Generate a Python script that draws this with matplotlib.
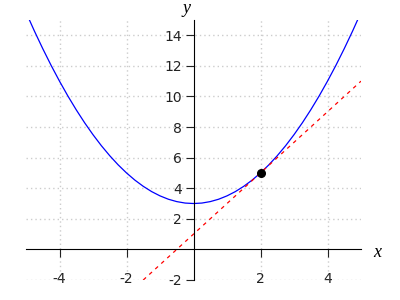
import matplotlib
matplotlib.use("Agg")
from matplotlib import pyplot as plt

plt.rcParams["axes.unicode_minus"] = False

# parabola samples
curva_x = [-5, -4.75, -4.5, -4.25, -4, -3.75, -3.5, -3.25, -3, -2.75, -2.5,
           -2.25, -2, -1.75, -1.5, -1.25, -1, -0.75, -0.5, -0.25, 0,
           0.25, 0.5, 0.75, 1, 1.25, 1.5, 1.75, 2, 2.25, 2.5,
           2.75, 3, 3.25, 3.5, 3.75, 4, 4.25, 4.5, 4.75, 5]
curva_y = [15.5, 14.28, 13.125, 12.03, 11, 10.03, 9.125, 8.28, 7.5, 6.78, 6.125,
           5.53, 5, 4.53, 4.125, 3.78, 3.5, 3.28, 3.125, 3.03, 3,
           3.03, 3.125, 3.28, 3.5, 3.78, 4.125, 4.53, 5, 5.53, 6.125,
           6.78, 7.5, 8.28, 9.125, 10.03, 11, 12.03, 13.125, 14.28, 15.5]

# tangent line and point
tangente_x = [-1.5, 5]
tangente_y = [-2, 11]
ponto_x = [2]
ponto_y = [5]

x_ticks = [-4, -2, 2, 4]
y_ticks = [-2, 2, 4, 6, 8, 10, 12, 14]

fig = plt.figure(figsize=(4, 3), dpi=100)
ax = fig.add_axes([0.065, 0.0667, 0.8375, 0.8667])

ax.plot(curva_x, curva_y, color="blue", linewidth=0.9)
ax.plot(tangente_x, tangente_y, color="red", linewidth=0.9, linestyle=(0, (3, 3.5)))
ax.plot(ponto_x, ponto_y, "o", color="black", markersize=5.5, zorder=5)

ax.set_xlim(-5, 5)
ax.set_ylim(-2, 15)

ax.spines["left"].set_position("zero")
ax.spines["bottom"].set_position("zero")
ax.spines["top"].set_visible(False)
ax.spines["right"].set_visible(False)

ax.set_xticks(x_ticks)
ax.set_yticks(y_ticks)
ax.tick_params(axis="x", length=5.5, pad=10.5, labelsize=10, colors="#222222")
ax.tick_params(axis="y", length=5.5, pad=3, labelsize=10, colors="#222222")

ax.grid(True, color="#cccccc", linestyle=(0, (1, 2.2)), linewidth=1)

ax.text(5.35, -0.2, "x", fontsize=13, family="Liberation Serif", style="italic",
        ha="left", va="center", clip_on=False)
ax.text(-0.2, 15.75, "y", fontsize=13, family="Liberation Serif", style="italic",
        ha="center", va="center", clip_on=False)

fig.savefig("out.png", dpi=100)
